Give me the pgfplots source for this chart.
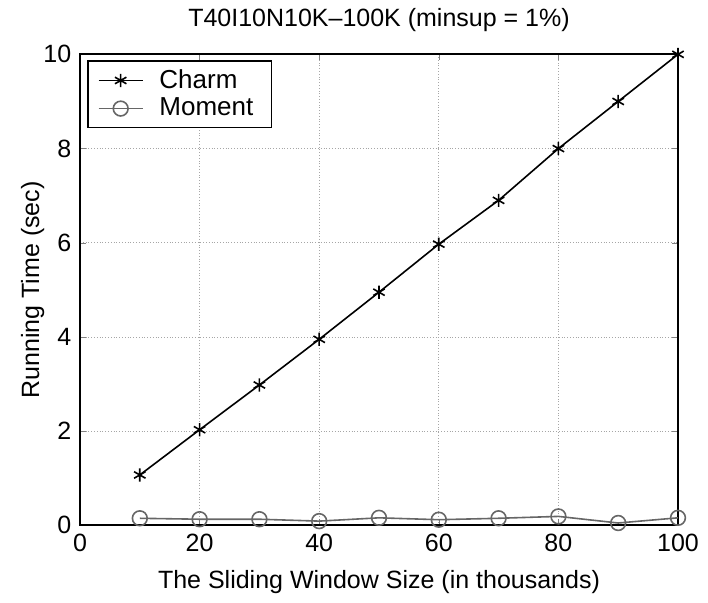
\documentclass[border=0pt]{standalone}
\usepackage{pgfplots}
\pgfplotsset{compat=1.18}
\usepackage{fontspec}
\setmainfont{Liberation Sans}
\begin{document}
\fontsize{12.5}{15}\selectfont
\begin{tikzpicture}
\begin{axis}[
  width=299pt, height=235.5pt, scale only axis,
  xmin=0, xmax=100, ymin=0, ymax=10,
  xtick={0,20,...,100}, ytick={0,2,...,10},
  tick align=inside, tick pos=both,
  major tick length=3pt,
  grid=major, grid style={densely dotted, gray!70, line width=0.4pt},
  axis line style={line width=0.9pt},
  /pgf/number format/assume math mode=true,
  tick label style={font=\fontsize{12.5}{15}\selectfont},
  label style={font=\fontsize{12.5}{15}\selectfont},
  xlabel style={yshift=-1pt},
  ylabel style={yshift=-9pt},
  title style={font=\fontsize{12.5}{15}\selectfont, yshift=1pt},
  title={T40I10N10K--100K (minsup = 1\%)},
  xlabel={The Sliding Window Size (in thousands)},
  ylabel={Running Time (sec)},
  legend style={at={(0.012,0.987)}, anchor=north west, draw=black, line width=0.7pt,
    font=\fontsize{13}{15}\selectfont, inner xsep=5pt, inner ysep=2pt, row sep=-1pt,
    nodes={inner xsep=4pt}, /tikz/every odd column/.append style={column sep=4pt}},
  legend cell align=left,
  legend image code/.code={\draw[mark repeat=2,mark phase=2,#1] plot coordinates {(0pt,0pt) (11pt,0pt) (22pt,0pt)};},
]
\addplot[black, line width=0.8pt, mark=asterisk, mark size=3.3pt, mark options={line width=0.8pt}] coordinates {
(10,1.07) (20,2.03) (30,2.98) (40,3.95) (50,4.95) (60,5.97) (70,6.90) (80,8.00) (90,9.00) (100,10.00)};
\addlegendentry{Charm}
\addplot[black!60, line width=0.8pt, mark=o, mark size=3.7pt, mark options={line width=0.8pt}] coordinates {
(10,0.15) (20,0.13) (30,0.13) (40,0.09) (50,0.16) (60,0.12) (70,0.15) (80,0.19) (90,0.05) (100,0.16)};
\addlegendentry{Moment}
\end{axis}
\path (current axis.south east) ++(15pt,0pt);
\path (current axis.south west) ++(-40pt,0pt);
\end{tikzpicture}
\end{document}
